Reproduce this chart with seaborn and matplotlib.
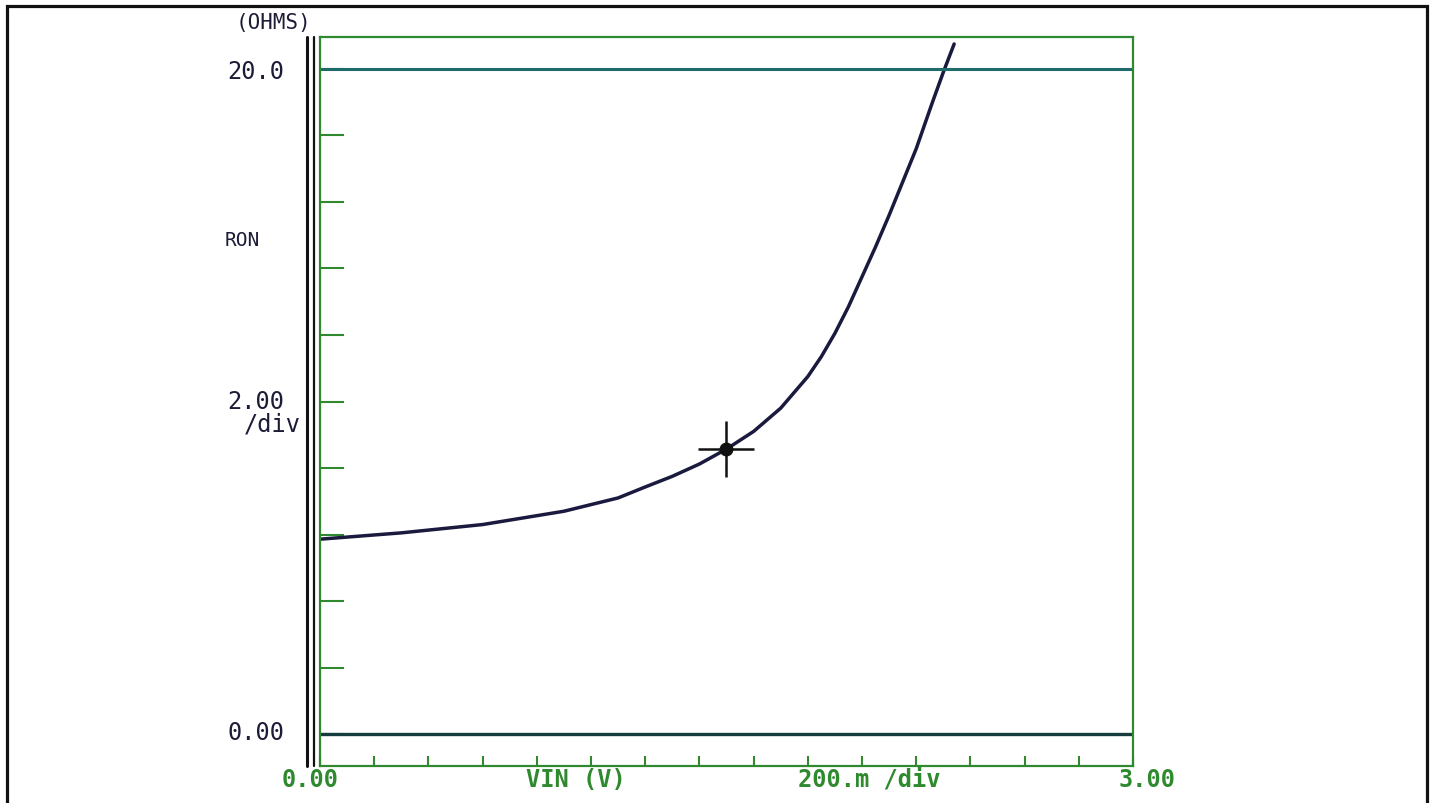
import numpy as np
import pandas as pd
import seaborn as sns
import matplotlib.pyplot as plt
from matplotlib.patches import Rectangle

# values
vin = [0.0, 0.3, 0.6, 0.9, 1.1, 1.2, 1.3, 1.4, 1.5, 1.6, 1.7, 1.8, 1.85, 1.9, 1.95, 2.0, 2.05, 2.1, 2.15, 2.2, 2.26, 2.3, 2.34]
ron = [5.86, 6.05, 6.3, 6.7, 7.1, 7.43, 7.75, 8.12, 8.57, 9.1, 9.8, 10.75, 11.35, 12.05, 12.85, 13.75, 14.65, 15.6, 16.6, 17.6, 19.0, 19.9, 20.75]
cursor_v = [1.50]
cursor_r = [8.57]
y_ticks = list(range(0, 21, 2))
x_ticks = [round(0.2 * i, 1) for i in range(16)]

df = pd.DataFrame({"VIN": vin, "RON": ron})

sns.set_style("white")
plt.rcParams["font.family"] = ["DejaVu Sans Mono", "DejaVu Sans"]

green = "#2f8a2f"
ink = "#1c1c38"

fig = plt.figure(figsize=(14.35, 8.04), dpi=100)
ax = fig.add_axes([320 / 1435, 1 - 767 / 804, (1133 - 320) / 1435, (767 - 38) / 804])

sns.lineplot(data=df, x="VIN", y="RON", ax=ax, color="#1a1a3e", linewidth=2.5,
             solid_joinstyle="round", solid_capstyle="round")
ax.plot(cursor_v, cursor_r, marker="+", markersize=40, markeredgewidth=1.8, color="#111111")
ax.plot(cursor_v, cursor_r, marker="o", markersize=9, color="#111111")

ax.axhline(0, color="#153d3d", linewidth=2.4)
ax.axhline(20, color="#1f6b6b", linewidth=2.2)

ax.set_xlim(0, 3.0)
ax.set_ylim(-0.96, 20.96)
ax.set_xticks(x_ticks)
ax.set_yticks(y_ticks)
ax.set_xticklabels([])
ax.set_yticklabels([])
ax.tick_params(axis="y", direction="in", length=17, width=1.5, color=green, left=True)
ax.tick_params(axis="x", direction="in", length=7, width=1.5, color=green, bottom=True)
ax.set_xlabel("")
ax.set_ylabel("")
for s in ax.spines.values():
    s.set_color(green)
    s.set_linewidth(1.6)

# double black line left of the vertical axis
for xv, lw in [(-0.047, 2.2), (-0.022, 1.6)]:
    ax.axvline(xv, color="#111111", linewidth=lw, clip_on=False)

# x axis texts (green)
fig.text(310 / 1435, 1 - 780 / 804, "0.00", color=green, ha="center", va="center", fontsize=17, fontweight="bold")
fig.text(1147 / 1435, 1 - 780 / 804, "3.00", color=green, ha="center", va="center", fontsize=17, fontweight="bold")
fig.text(576 / 1435, 1 - 780 / 804, "VIN (V)", color=green, ha="center", va="center", fontsize=17, fontweight="bold")
fig.text(869 / 1435, 1 - 780 / 804, "200.m /div", color=green, ha="center", va="center", fontsize=17, fontweight="bold")

# y axis texts
fig.text(273 / 1435, 1 - 23 / 804, "(OHMS)", color=ink, ha="center", va="center", fontsize=15)
fig.text(256 / 1435, 1 - 72 / 804, "20.0", color=ink, ha="center", va="center", fontsize=17)
fig.text(242 / 1435, 1 - 240 / 804, "RON", color=ink, ha="center", va="center", fontsize=14)
fig.text(256 / 1435, 1 - 402 / 804, "2.00", color=ink, ha="center", va="center", fontsize=17)
fig.text(272 / 1435, 1 - 424 / 804, "/div", color=ink, ha="center", va="center", fontsize=17)
fig.text(256 / 1435, 1 - 733 / 804, "0.00", color=ink, ha="center", va="center", fontsize=17)

# outer frame of the scan
fig.add_artist(Rectangle((6.5 / 1435, -0.1), (1427 - 6.5) / 1435, 1.1 - 6.5 / 804,
                         transform=fig.transFigure, fill=False, edgecolor="#111111", linewidth=2.3))

fig.savefig("out.png", dpi=100)
